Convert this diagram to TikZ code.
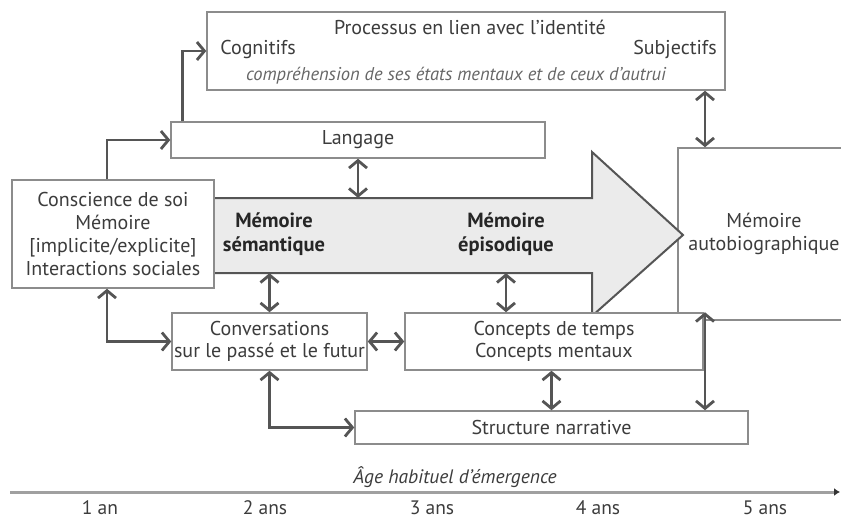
\documentclass[tikz,border=0pt]{standalone}
\usepackage{fontspec}
\setmainfont{PT Sans}
\usetikzlibrary{arrows.meta,calc}
\definecolor{txt}{HTML}{3C3C3C}
\definecolor{ln}{HTML}{555555}
\definecolor{bx}{HTML}{8C8C8C}
\definecolor{fillg}{HTML}{EBEBEB}
\definecolor{axc}{HTML}{A0A0A0}
\begin{document}
\begin{tikzpicture}[x=1pt,y=-1pt,
  every node/.style={text=txt,font=\fontsize{20}{22.7}\selectfont,align=center,inner sep=0pt},
  box/.style={draw=bx,line width=1.5pt,fill=white},
  tip/.tip={Straight Barb[length=7.5pt,width=18pt,line width=2.8pt]},
  con/.style={draw=ln,line width=2.8pt,-tip},
  dbl/.style={draw=ln,line width=2.8pt,tip-tip},
  lbl/.style={font=\fontsize{19.5}{22}\selectfont},
  bold/.style={font=\fontsize{20.5}{24}\selectfont\bfseries,text=black!85},
  itl/.style={font=\fontsize{18.5}{22}\selectfont\itshape,text=black!60}]
\useasboundingbox (0,0) rectangle (841,519);
\fill[white] (0,0) rectangle (841,519);

% top box
\node[box,minimum width=518,minimum height=78] (topbox) at (466,51) {};
\node (title) at (470,27) {Processus en lien avec l'identité};
\node (cog) at (258,50) {Cognitifs};
\node (subj) at (675,50) {Subjectifs};
\node[itl] (comp) at (456,76) {compréhension de ses états mentaux et de ceux d’autrui};

% langage
\node[box,minimum width=374,minimum height=36] (langage) at (358,140) {Langage};

% autobiographical memory box
\node[box,minimum width=172,minimum height=172] (autobio) at (764,234) {Mémoire\\autobiographique};

% big arrow
\draw[draw=ln,line width=2pt,fill=fillg,line join=miter]
  (214,198) -- (592,198) -- (592,152) -- (683,235) -- (592,316) -- (592,273) -- (214,273);
\node[minimum width=378,minimum height=75] (body) at (403,235.5) {};
\node[bold] (sem) at (274,234) {Mémoire\\sémantique};
\node[bold] (ep) at (506,234) {Mémoire\\épisodique};

% conscience
\node[box,minimum width=202,minimum height=108] (consc) at (113,234)
  {Conscience de soi\\Mémoire\\{[}implicite/explicite{]}\\Interactions sociales};

% lower boxes
\node[box,minimum width=195,minimum height=57] (conv) at (269.5,341.5)
  {Conversations\\sur le passé et le futur};
\node[box,minimum width=298,minimum height=57] (concepts) at (554,341.5)
  {Concepts de temps\\Concepts mentaux};
\node[box,minimum width=393,minimum height=33] (structure) at (551.5,427.5) {Structure narrative};

\coordinate (ax) at (705,0);

% connectors
\draw[con] ([xshift=-6pt]consc.north) |- (langage.west);
\draw[con] ([xshift=12pt]langage.north west) |- (topbox.west);
\draw[dbl] (langage.south) -- (langage.south |- body.north);
\draw[dbl] (conv.north |- body.south) -- (conv.north);
\draw[dbl] (ep |- body.south) -- (ep |- concepts.north);
\draw[dbl] ([xshift=-6pt]consc.south) |- (conv.west);
\draw[dbl] (conv.east) -- (concepts.west);
\draw[dbl] (structure.north |- concepts.south) -- (structure.north);
\draw[dbl] (conv.south) |- (structure.west);
\draw[dbl] (ax |- topbox.south) -- (ax |- autobio.north);
\draw[dbl] (ax |- concepts.north) -- (ax |- structure.north);

% time axis
\coordinate (axL) at (10,492);
\coordinate (axR) at (840,492);
\draw[axc,line width=3pt,-{Latex[length=6pt,width=8pt,color=black!80]}] (axL) -- (axR);
\node[font=\fontsize{19.5}{22}\selectfont\itshape] (age) at (455,477) {Âge habituel d’émergence};
\node[lbl] (a1) at (100,508) {1 an};
\node[lbl] (a2) at (265,508) {2 ans};
\node[lbl] (a3) at (432,508) {3 ans};
\node[lbl] (a4) at (598,508) {4 ans};
\node[lbl] (a5) at (765,508) {5 ans};
\end{tikzpicture}
\end{document}
